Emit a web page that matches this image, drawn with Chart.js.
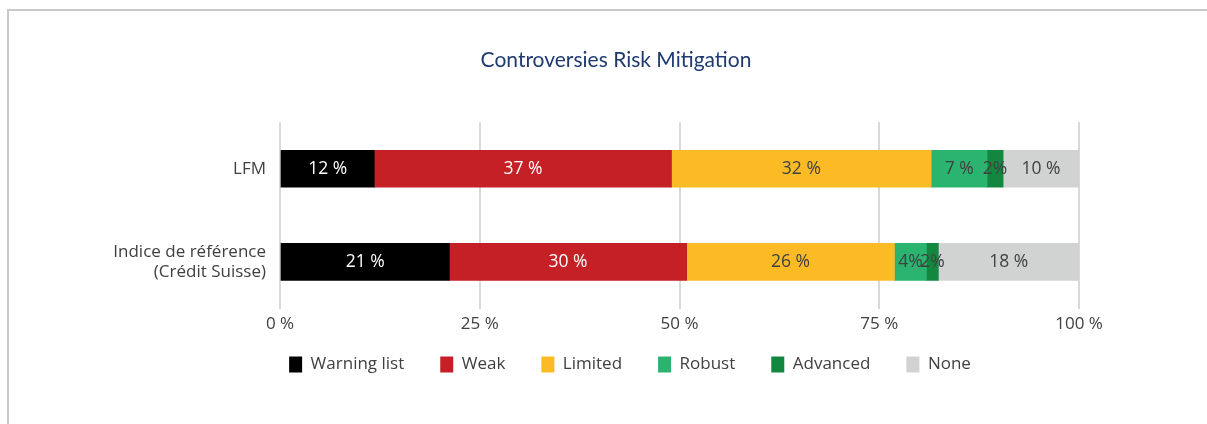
<!DOCTYPE html>
<html>
<head>
<meta charset="utf-8">
<script src="https://cdn.jsdelivr.net/npm/chart.js@4"></script>
<style>
  body { margin: 0; background: #fff; }
  #wrap { position: relative; width: 1207px; height: 424px; overflow: hidden; }
  #frame { position: absolute; left: 7px; top: 9px; width: 1400px; height: 600px; border: 2px solid #c9c9c9; }
  #myChart { position: absolute; left: 0; top: 0; }
</style>
</head>
<body>
<div id="wrap">
  <div id="frame"></div>
  <canvas id="myChart" width="1207" height="424"></canvas>
</div>
<script>
var categories = ["LFM", ["Indice de référence", "(Crédit Suisse)"]];
var seriesNames = ["Warning list", "Weak", "Limited", "Robust", "Advanced", "None"];
var seriesColors = ["#000000", "#c42026", "#fcbb25", "#2bb46f", "#12873f", "#d1d2d2"];
var labelColors = ["#ffffff", "#ffffff", "#404040", "#404040", "#404040", "#404040"];

// share per category, in %
var warningList = [11.8, 21.2];
var weak = [37.2, 29.7];
var limited = [32.5, 26.0];
var robust = [7.0, 4.0];
var advanced = [2.0, 1.5];
var none = [9.5, 17.6];

// labels printed on the bars
var warningListText = ["12 %", "21 %"];
var weakText = ["37 %", "30 %"];
var limitedText = ["32 %", "26 %"];
var robustText = ["7 %", "4%"];
var advancedText = ["2%", "2%"];
var noneText = ["10 %", "18 %"];

var xTicks = [0, 25, 50, 75, 100];

var FONT = "'Open Sans'";

var barLabels = {
  id: 'barLabels',
  afterLayout: function(chart) {
    // let the tick labels use the room the layout squeezed out
    chart.scales.x.bottom = chart.scales.x.top + 34;
    chart.scales.y.left = 0;
    // legend sits a little right of the title in the original
    chart.legend.left += 14;
    chart.legend.right += 14;
  },
  afterDatasetsDraw: function(chart) {
    var ctx = chart.ctx;
    ctx.save();
    ctx.font = "17.5px " + FONT;
    ctx.textAlign = 'center';
    ctx.textBaseline = 'middle';
    chart.data.datasets.forEach(function(ds, i) {
      var meta = chart.getDatasetMeta(i);
      meta.data.forEach(function(bar, j) {
        ctx.fillStyle = ds.labelColor;
        ctx.fillText(ds.texts[j], (bar.x + bar.base) / 2, bar.y);
      });
    });
    ctx.restore();
  }
};

function renderChart() {
  var values = [warningList, weak, limited, robust, advanced, none];
  var texts = [warningListText, weakText, limitedText, robustText, advancedText, noneText];
  var datasets = [];
  for (var i = 0; i < seriesNames.length; i++) {
    datasets.push({
      label: seriesNames[i],
      data: values[i],
      texts: texts[i],
      labelColor: labelColors[i],
      backgroundColor: seriesColors[i],
      borderWidth: 0,
      barThickness: 37
    });
  }

  var ctx = document.getElementById("myChart").getContext('2d');
  var myChart = new Chart(ctx, {
    type: 'bar',
    data: { labels: categories, datasets: datasets },
    plugins: [barLabels],
    options: {
      indexAxis: 'y',
      responsive: false,
      animation: false,
      layout: { padding: { top: 37, right: 128, bottom: 41, left: 153 } },
      scales: {
        x: {
          stacked: true,
          min: 0,
          max: 100,
          afterBuildTicks: function(scale) {
            scale.ticks = xTicks.map(function(v) { return { value: v }; });
          },
          afterFit: function(scale) { scale.height = 11.5; },
          grid: { color: '#d9d9d9', lineWidth: 2, drawTicks: false },
          border: { display: false },
          ticks: {
            padding: 5,
            color: '#404040',
            font: { family: FONT, size: 17 },
            callback: function(v) { return v + ' %'; }
          }
        },
        y: {
          stacked: true,
          afterFit: function(scale) { scale.width = 127; },
          grid: { display: false },
          border: { display: false },
          ticks: {
            padding: 6,
            color: '#404040',
            font: { family: FONT, size: 17 }
          }
        }
      },
      plugins: {
        title: {
          display: true,
          text: 'Controversies Risk Mitigation',
          color: '#1f3a70',
          font: { family: 'Lato', size: 21, weight: 'normal' },
          padding: { top: 11, bottom: 49 }
        },
        legend: {
          position: 'bottom',
          labels: {
            boxWidth: 13,
            boxHeight: 16,
            padding: 36,
            color: '#404040',
            font: { family: FONT, size: 17 }
          }
        },
        tooltip: { enabled: false }
      }
    }
  });
}

window.onload = function() {
  renderChart();
};
</script>
</body>
</html>
